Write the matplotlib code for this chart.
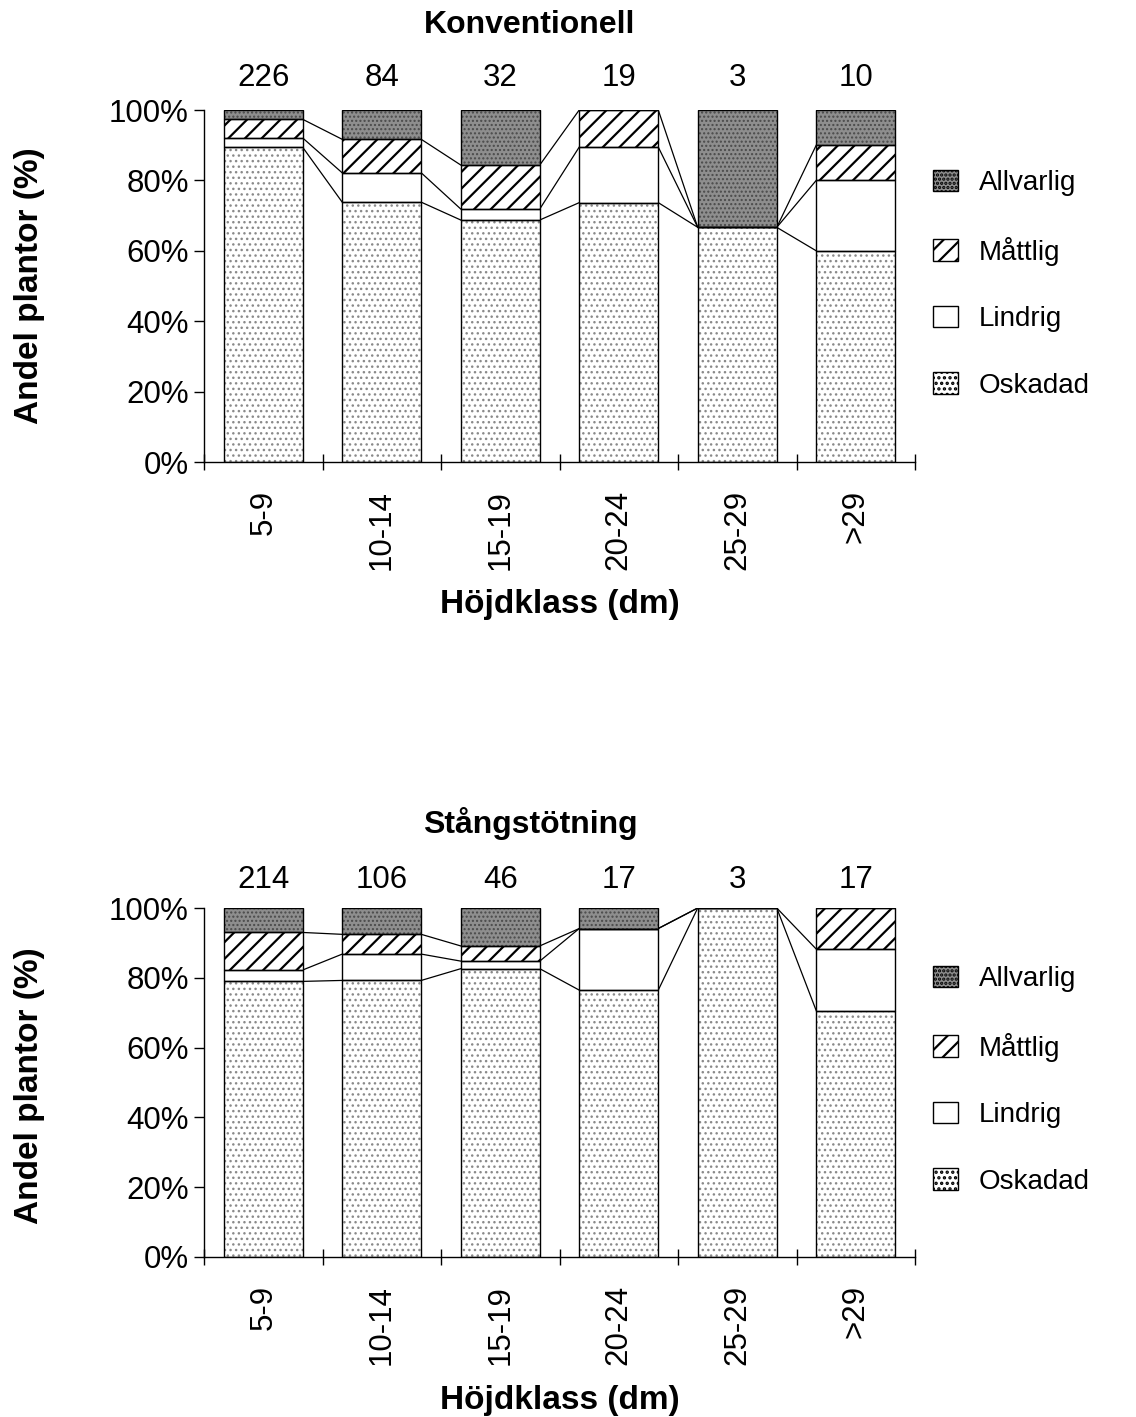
import numpy as np
import matplotlib as mpl
import matplotlib.pyplot as plt
from matplotlib.patches import Patch

plt.rcParams['font.family'] = ['Liberation Sans', 'DejaVu Sans']
plt.rcParams['hatch.linewidth'] = 1.6

cats = ['5-9', '10-14', '15-19', '20-24', '25-29', '>29']

# antal plantor per höjdklass
n_konv = [226, 84, 32, 19, 3, 10]
n_stang = [214, 106, 46, 17, 3, 17]

# Konventionell
konv_oskadad = [202, 62, 22, 14, 2, 6]
konv_lindrig = [6, 7, 1, 3, 0, 2]
konv_mattlig = [12, 8, 4, 2, 0, 1]
konv_allvarlig = [6, 7, 5, 0, 1, 1]

# Stångstötning
stang_oskadad = [169, 84, 38, 13, 3, 12]
stang_lindrig = [7, 8, 1, 3, 0, 3]
stang_mattlig = [23, 6, 2, 0, 0, 2]
stang_allvarlig = [15, 8, 5, 1, 0, 0]

labels = ['Oskadad', 'Lindrig', 'Måttlig', 'Allvarlig']
# (fyllnadsfärg, mönster, mönsterfärg, linjebredd för mönster)
styles = [('white', '...', '#8a8a8a', 1.0),
          ('white', None, 'black', 1.0),
          ('white', '//', 'black', 1.6),
          ('#8e8e8e', '....', '#4a4a4a', 1.0)]

W, H = 1136, 1417
fig = plt.figure(figsize=(W / 100, H / 100), dpi=100)
bw = 0.667


def draw(ax, series, n, title, title_y, n_y):
    x = np.arange(len(cats))
    n = np.array(n, dtype=float)
    pct = [np.array(s) / n * 100 for s in series]
    bottom = np.zeros(len(cats))
    tops = []
    for p, (fc, hatch, hc, hlw) in zip(pct, styles):
        with mpl.rc_context({'hatch.linewidth': hlw}):
            ax.bar(x, p, bw, bottom=bottom, color=fc, hatch=hatch,
                   edgecolor=hc, linewidth=0, zorder=2)
        ax.bar(x, p, bw, bottom=bottom, fill=False, edgecolor='black',
               linewidth=1.0, zorder=3)
        bottom = bottom + p
        tops.append(bottom.copy())
    # serielinjer mellan staplarna
    for cum in tops[:-1]:
        for i in range(len(cats) - 1):
            if cum[i] > 99.99 and cum[i + 1] > 99.99:
                continue
            ax.plot([x[i] + bw / 2, x[i + 1] - bw / 2], [cum[i], cum[i + 1]],
                    color='black', lw=0.9, zorder=1)

    ax.set_xlim(-0.5, len(cats) - 0.5)
    ax.set_ylim(0, 100)
    ax.spines[['top', 'right']].set_visible(False)
    ax.set_yticks(np.arange(0, 101, 20))
    ax.set_yticklabels([f'{v}%' for v in range(0, 101, 20)], fontsize=22.5)
    ax.tick_params(axis='y', direction='out', length=7, width=1, pad=4)
    ax.set_xticks(np.arange(-0.5, len(cats), 1))
    ax.set_xticklabels([])
    ax.tick_params(axis='x', which='major', direction='inout', length=12, width=1)
    ax.set_xticks(x, minor=True)
    ax.set_xticklabels(cats, minor=True, rotation=90, fontsize=22.5)
    ax.tick_params(axis='x', which='minor', length=0, pad=20)
    for sp in ['left', 'bottom']:
        ax.spines[sp].set_linewidth(1.0)

    for i, v in enumerate(n):
        fig.text((204 + 118.5 * (i + 0.5)) / W, 1 - n_y / H, f'{int(v)}',
                 ha='center', va='center', fontsize=22.5)
    fig.text(530 / W, 1 - title_y / H, title, ha='center', va='center',
             fontsize=23, fontweight='bold')


def legend(y_top):
    handles = []
    for lab, (fc, hatch, hc, hlw) in zip(labels, styles):
        handles.append(Patch(facecolor=fc, hatch=hatch, edgecolor='black',
                             linewidth=1.0, label=lab))
    fig.legend(handles[::-1], labels[::-1], loc='upper left',
               bbox_to_anchor=(933 / W, 1 - y_top / H),
               bbox_transform=fig.transFigure, frameon=False, fontsize=20,
               handlelength=0.9, handleheight=0.8, handletextpad=0.75,
               labelspacing=1.45, borderpad=0, borderaxespad=0)


ax1 = fig.add_axes([204 / W, 1 - 462 / H, 711 / W, 352 / H])
draw(ax1, [konv_oskadad, konv_lindrig, konv_mattlig, konv_allvarlig],
     n_konv, 'Konventionell', 25, 78)
legend(170)

ax2 = fig.add_axes([204 / W, 1 - 1257 / H, 711 / W, 349 / H])
draw(ax2, [stang_oskadad, stang_lindrig, stang_mattlig, stang_allvarlig],
     n_stang, 'Stångstötning', 823, 880)
legend(966)

for yl, yx in [(286, 605), (1086, 1400)]:
    fig.text(30 / W, 1 - yl / H, 'Andel plantor (%)', rotation=90,
             ha='center', va='center', fontsize=24, fontweight='bold')
    fig.text(560 / W, 1 - yx / H, 'Höjdklass (dm)', ha='center',
             va='center', fontsize=24, fontweight='bold')

fig.savefig('out.png', dpi=100)
